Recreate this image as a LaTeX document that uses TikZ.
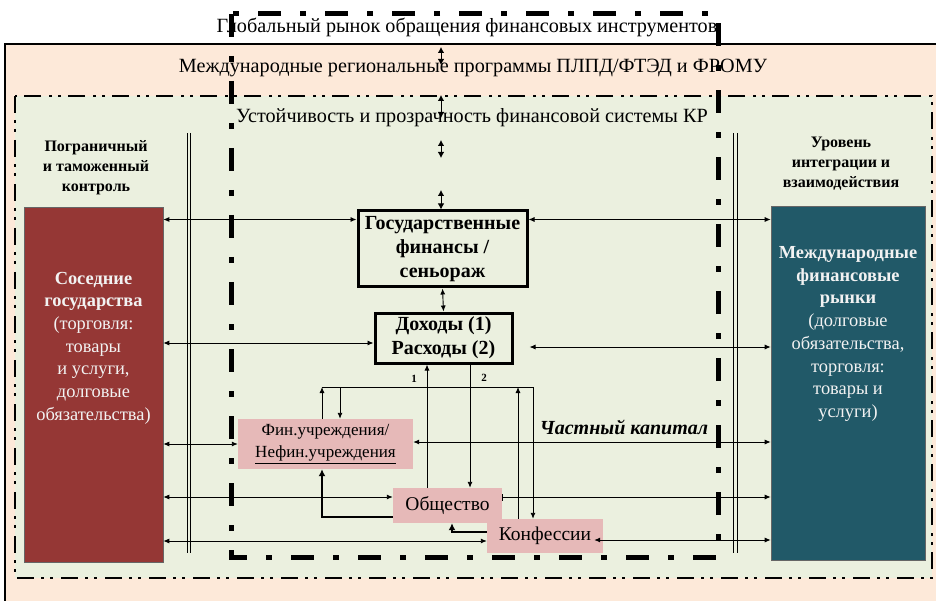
\documentclass[tikz,border=0pt]{standalone}
\usepackage{fontspec}
\setmainfont{Liberation Serif}
\usetikzlibrary{arrows.meta,calc}
\definecolor{peach}{HTML}{FDE9D9}
\definecolor{lgreen}{HTML}{EBF0DF}
\definecolor{pinkfill}{HTML}{E6B9B8}
\definecolor{darkredfill}{HTML}{953735}
\definecolor{tealfill}{HTML}{215968}
\tikzset{
  toptext/.style={font=\fontsize{20.2}{23}\selectfont, inner sep=0pt},
  lbl/.style={font=\fontsize{16}{20}\selectfont\bfseries, align=center, inner sep=0pt},
  boxtext/.style={font=\fontsize{18.4}{22.7}\selectfont, align=center, text=white!95!black, inner sep=0pt},
  colbox/.style={fill=#1, draw=black!60, line width=0.6pt, inner sep=0pt},
  fbox/.style={draw=black, line width=3pt, fill=lgreen, inner sep=0pt, align=center,
     font=\fontsize{20}{24}\selectfont\bfseries},
  pbox/.style={fill=pinkfill, draw=none, inner sep=0pt, align=center},
  arr/.style={-{Latex[length=6pt,width=5pt]}, line width=0.9pt},
  darr/.style={{Latex[length=6pt,width=5pt]}-{Latex[length=6pt,width=5pt]}, line width=0.9pt},
  sdarr/.style={{Latex[length=6pt,width=6.5pt]}-{Latex[length=6pt,width=6.5pt]}, line width=0.9pt},
  thickarr/.style={-{Latex[length=7pt,width=7pt]}, line width=2.6pt},
  dline/.style={double=lgreen, double distance=2.6pt, line width=1pt},
  gframe/.style={line width=5pt, dash pattern=on 23pt off 19pt on 6pt off 19pt},
  gborder/.style={line width=2.5pt, dash pattern=on 17pt off 7pt on 3pt off 6pt on 3pt off 8pt}
}
\begin{document}
\begin{tikzpicture}[x=1pt,y=-1pt]
\useasboundingbox (0,0) rectangle (936,601);
\clip (0,0) rectangle (936,601);
\fill[white] (0,0) rectangle (936,601);
% outer regional frame
\filldraw[fill=peach, draw=black, line width=2.5pt] (5,44) rectangle (960,640);
% inner green frame
\fill[lgreen] (15,96) rectangle (932,578);
\draw[gborder] (15,96) rectangle (932,578);

% texts of frames
\node[toptext] (glob) at (467,27) {Глобальный рынок обращения финансовых инструментов};
\node[toptext] (prog) at (473,68) {Международные региональные программы ПЛПД/ФТЭД и ФРОМУ};
\node[toptext] (ust) at (472,118) {Устойчивость и прозрачность финансовой системы КР};

% side boxes
\node[colbox=darkredfill, minimum width=139pt, minimum height=355pt] (sos) at (93.5,384.5) {};
\node[boxtext] (sostext) at (93.5,348) {\textbf{Соседние}\\\textbf{государства}\\(торговля:\\товары\\и услуги,\\долговые\\обязательства)};
\node[colbox=tealfill, minimum width=154pt, minimum height=354pt] (mfr) at (848,383) {};
\node[boxtext] (mfrtext) at (848,334) {\textbf{Международные}\\\textbf{финансовые}\\\textbf{рынки}\\(долговые\\обязательства,\\торговля:\\товары и\\услуги)};

\node[lbl] (pogr) at (96,168) {Пограничный\\и таможенный\\контроль};
\node[lbl] (urov) at (841,164) {Уровень\\интеграции и\\взаимодействия};

% double borders
\coordinate (dl1) at (189,133); \coordinate (dl2) at (189,553);
\coordinate (dr1) at (735.5,133); \coordinate (dr2) at (735.5,553);
\draw[dline] (dl1) -- (dl2);
\draw[dline] (dr1) -- (dr2);

% global market frame
\draw[gframe] (231,14) rectangle (718,557);

% central boxes
\node[fbox, minimum width=169pt, minimum height=76pt] (gos) at (442.5,249) {Государственные\\финансы /\\сеньораж};
\node[fbox, minimum width=137pt, minimum height=50pt] (doh) at (443.5,338) {Доходы (1)\\Расходы (2)};
\node[pbox, minimum width=175pt, minimum height=50pt, font=\fontsize{17}{22}\selectfont] (fin) at (325.5,444) {Фин.учреждения/\\\underline{Нефин.учреждения}};
\node[pbox, minimum width=109pt, minimum height=35pt, font=\fontsize{19.5}{22}\selectfont] (obs) at (447.5,505.5) {Общество};
\node[pbox, minimum width=116pt, minimum height=34pt, font=\fontsize{19.5}{22}\selectfont] (konf) at (545,536) {Конфессии};

% small vertical arrows
\coordinate (v1a) at (441,47); \coordinate (v1b) at (441,65);
\coordinate (v2a) at (441,95); \coordinate (v2b) at (441,118);
\coordinate (v3a) at (441,140); \coordinate (v3b) at (441,158);
\coordinate (v4a) at (441,190);
\draw[sdarr] (v1a) -- (v1b);
\draw[sdarr] (v2a) -- (v2b);
\draw[sdarr] (v3a) -- (v3b);
\draw[sdarr] (v4a) -- (gos.north -| v4a);
\draw[darr] (gos.south) -- (doh.north);

% horizontal links
\coordinate (gA) at ([yshift=-10pt]gos.north west);
\coordinate (gB) at ([yshift=-10pt]gos.north east);
\draw[darr] (sos.east |- gA) -- (gA);
\draw[darr] (gB) -- (mfr.west |- gB);
\coordinate (dA) at ([yshift=-5pt]doh.west);
\coordinate (dB) at ([xshift=16pt,yshift=-9pt]doh.east);
\draw[darr] (sos.east |- dA) -- (dA);
\draw[darr] (dB) -- (mfr.west |- dB);
\draw[darr] (sos.east |- fin.west) -- (fin.west);
\coordinate (fB) at ([yshift=2pt]fin.east);
\draw[darr] (fB) -- (mfr.west |- fB);
\node[font=\fontsize{20}{22}\selectfont\bfseries\itshape, inner sep=0pt] (chk) at (624,427) {Частный капитал};
\coordinate (oA) at ([yshift=8.5pt]obs.west);
\coordinate (oB) at ([yshift=8.5pt]obs.east);
\draw[darr] (sos.east |- oA) -- (oA);
\draw[{Bar[width=7pt]}-{Latex[length=6pt,width=5pt]}, line width=0.9pt] (oB) -- (mfr.west |- oB);
\coordinate (kA) at ([yshift=-5pt]konf.west);
\coordinate (kB) at ([xshift=-9pt,yshift=-4pt]konf.east);
\draw[darr] (sos.east |- kA) -- (kA);
\draw[darr] (kB) -- (mfr.west |- kB);

% lines 1 and 2
\coordinate (l1) at (427,0);
\coordinate (l2) at (470,0);
\draw[arr] (obs.north -| l1) -- (doh.south -| l1);
\draw[arr] (doh.south -| l2) -- (obs.north -| l2);
\node[font=\fontsize{11}{12}\selectfont\bfseries, inner sep=0pt] (n1) at (414,379) {1};
\node[font=\fontsize{11}{12}\selectfont\bfseries, inner sep=0pt] (n2) at (484,378) {2};

% bus between institutions and confessions
\coordinate (b1) at (322,387);
\coordinate (b2) at (533,387);
\coordinate (b3) at (340,387);
\coordinate (b4) at (518,387);
\draw[arr] (fin.north -| b1) -- (b1);
\draw[arr] (b1) -- (b2) -- (konf.north -| b2);
\draw[arr] (b3) -- (fin.north -| b3);
\draw[arr] (konf.north -| b4) -- (b4);

% thick arrows
\coordinate (tA) at ([yshift=-11.5pt]obs.west);
\draw[thickarr] (tA) -- (tA -| b1) -- (fin.south -| b1);
\coordinate (tB) at ([yshift=4pt]konf.west);
\coordinate (tC) at (452,0);
\draw[thickarr] (tB) -- (tB -| tC) -- (obs.south -| tC);
\end{tikzpicture}
\end{document}
